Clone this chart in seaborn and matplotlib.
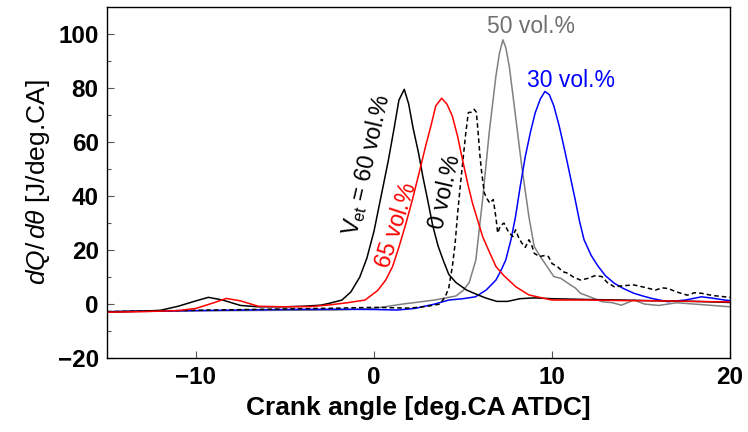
import matplotlib
matplotlib.use("Agg")
import matplotlib.pyplot as plt
import seaborn as sns
import pandas as pd

# Heat release rate curves, dQ/dθ [J/deg.CA] vs crank angle [deg.CA ATDC]
x_60 = [-15, -13, -12, -11, -10, -9.3, -8.5, -7.5, -6.5, -5, -4, -3, -2.5, -1.8, -1.3, -0.8, -0.4, 0.0,
        0.4, 0.8, 1.1, 1.4, 1.7, 1.95, 2.2, 2.5, 2.75, 3.0, 3.3, 3.6, 3.9, 4.2, 4.6, 5.2, 5.8, 6.3, 6.9,
        7.5, 8.2, 9, 10, 12, 14, 16, 18, 20]
y_60 = [-2.9, -2.6, -2.3, -0.8, 1.2, 2.5, 1.5, -0.5, -1.0, -1.0, -0.8, -0.4, 0.3, 1.5, 4.5, 10, 17, 27,
        40, 53, 64, 75.5, 79.5, 74, 65, 56, 47, 39, 29, 21.5, 16, 11, 8, 5.2, 3.5, 2.2, 1.0,
        1.0, 2.0, 2.3, 2.0, 1.7, 1.5, 1.2, 1.0, 0.6]

x_65 = [-15, -13, -12, -11, -10, -9, -8.3, -7.5, -6.5, -5, -3.5, -2.5, -1.5, -0.5, 0.2, 0.66, 1.05, 1.41,
        1.8, 2.16, 2.55, 2.9, 3.2, 3.47, 3.8, 4.1, 4.4, 4.7, 4.97, 5.25, 5.53, 6.1, 6.5, 6.85, 7.3, 7.97,
        8.7, 9.3, 10, 12, 14, 16, 18, 20]
y_65 = [-3.0, -2.8, -2.6, -2.4, -1.6, 0.5, 2.1, 1.2, -0.8, -1.0, -0.9, -0.3, 0.5, 1.5, 5, 8.9, 14, 21.3,
        30, 38.7, 49, 58.5, 66, 73.4, 76.2, 74, 69.6, 62, 53.5, 45, 37.4, 25, 19, 13.9, 10.5, 6.4,
        3.4, 2.5, 1.5, 1.5, 1.3, 1.2, 1.0, 0.8]

x_0 = [-15, -10, -5, -2, 0, 2, 3, 3.7, 4.0, 4.2, 4.4, 4.55, 4.7, 4.85, 5.0, 5.15, 5.3, 5.45, 5.63, 5.75,
       5.85, 5.95, 6.05, 6.2, 6.35, 6.5, 6.7, 6.85, 6.95, 7.1, 7.3, 7.45, 7.6, 7.8, 7.95, 8.1, 8.3, 8.5,
       8.7, 8.85, 9.0, 9.3, 9.6, 9.8, 10.0, 10.3, 10.6, 10.9, 11.2, 11.6, 12.0, 12.4, 12.8, 13.1, 13.5,
       14.0, 14.6, 15.2, 15.8, 16.2, 16.5, 17.0, 17.6, 18.0, 18.4, 19.0, 19.7, 20]
y_0 = [-2.8, -2.3, -1.8, -1.5, -1.2, -1.5, -0.8, 0.0, 2.7, 6, 13.9, 22, 33.7, 44, 53.5, 63, 70.9, 71,
       72.1, 71, 63.4, 55, 48.6, 41.1, 39, 37.4, 38.7, 32, 26.3, 29, 30, 28, 26.3, 25, 27.5, 25, 22.6, 21,
       23.8, 22, 18.8, 17.6, 18, 17.6, 15, 13.9, 12, 11.4, 10, 8.9, 9.5, 10.5, 10.2, 8, 6.4,
       6.8, 7.1, 6.2, 5.2, 6.0, 5.8, 4.5, 3.3, 4.2, 4.0, 3.2, 2.7, 2.5]

x_50 = [-15, -10, -5, -2, 0, 1.6, 3.4, 4.6, 5.0, 5.35, 5.72, 6.1, 6.47, 6.85, 7.05, 7.24, 7.4, 7.6, 7.95,
        8.3, 8.7, 9.0, 9.3, 9.6, 10.1, 10.5, 10.9, 11.3, 11.6, 12.2, 12.8, 13.4, 13.9, 14.6, 15.2, 16,
        17, 18, 19, 20]
y_50 = [-2.8, -2.5, -2.3, -2.2, -1.6, 0.0, 1.5, 3.0, 5.0, 8.0, 16.3, 38.7, 63.4, 84.5, 93, 97.8, 95, 88,
        69.6, 51, 32.4, 21.3, 18, 15.1, 10.2, 9.5, 7.7, 6.0, 4.0, 2.5, 0.9, 0.5, -0.4, 1.5, 0.0, -0.5,
        0.5, 0.0, -0.5, -1.0]

x_30 = [-15, -10, -5, -2, 0, 1.3, 2.3, 3.4, 4.2, 5.0, 5.7, 6.3, 6.85, 7.1, 7.4, 7.7, 7.95, 8.2, 8.5, 8.8,
        9.06, 9.35, 9.6, 9.85, 10.1, 10.4, 10.7, 11.0, 11.3, 11.55, 11.8, 12.2, 12.6, 13.0, 13.5, 14.0,
        14.6, 15.1, 15.6, 16.5, 17.5, 18.4, 19.0, 19.7, 20]
y_30 = [-2.8, -2.4, -2.0, -1.9, -2.0, -2.2, -1.6, 0.0, 1.5, 2.0, 2.7, 5.2, 8.9, 12, 16.3, 24, 32.4, 43,
        54.7, 64, 70.9, 76, 78.7, 77.5, 73.4, 66, 57.3, 48, 38.7, 30.5, 23.8, 18, 13.9, 10.5, 7.7, 5.8,
        4.0, 3.0, 2.1, 0.9, 1.5, 2.7, 2.2, 1.5, 1.3]

x_ticks = [-10, 0, 10, 20]
y_ticks = [-20, 0, 20, 40, 60, 80, 100]

sns.set_theme(style="ticks")
plt.rcParams["font.family"] = ["Liberation Sans", "DejaVu Sans"]
plt.rcParams["mathtext.fontset"] = "custom"
plt.rcParams["mathtext.rm"] = "Liberation Sans"
plt.rcParams["mathtext.it"] = "Liberation Sans:italic"
plt.rcParams["text.color"] = "black"
plt.rcParams["axes.labelcolor"] = "black"
plt.rcParams["xtick.labelcolor"] = "black"
plt.rcParams["ytick.labelcolor"] = "black"

fig = plt.figure(figsize=(7.48, 4.32), dpi=100)
ax = fig.add_axes([0.143, 0.171, 0.833, 0.813])

series = [
    (x_50, y_50, "#808080", "-"),
    (x_30, y_30, "#0000ff", "-"),
    (x_0, y_0, "black", (0, (3, 2))),
    (x_60, y_60, "black", "-"),
    (x_65, y_65, "#ff0000", "-"),
]
for xs, ys, col, ls in series:
    df = pd.DataFrame({"ca": xs, "hrr": ys})
    sns.lineplot(data=df, x="ca", y="hrr", ax=ax, color=col, linestyle=ls,
                 linewidth=1.1, sort=False, estimator=None)

ax.set_xlim(-15, 20)
ax.set_ylim(-20, 110)
ax.set_xticks(x_ticks)
ax.set_yticks(y_ticks)
ax.set_yticks([-10, 10, 30, 50, 70, 90], minor=True)
ax.tick_params(axis="both", which="major", direction="in", length=5, width=0.8,
               labelsize=17.5, pad=6, color="#555555")
ax.tick_params(axis="y", which="minor", direction="in", length=3, width=0.8, color="#555555")
for lab in ax.get_xticklabels() + ax.get_yticklabels():
    lab.set_fontweight("bold")
for sp in ax.spines.values():
    sp.set_visible(True)
    sp.set_linewidth(1.0)
    sp.set_color("black")

ax.set_xlabel("Crank angle [deg.CA ATDC]", fontsize=19, fontweight="bold", labelpad=5)
ax.set_ylabel(r"$dQ/\,d\theta$ [J/deg.CA]", fontsize=19, labelpad=4)

ax.text(8.84, 102.6, "50 vol.%", color="#707070", fontsize=16.5, ha="center", va="center")
ax.text(11.07, 82.6, "30 vol.%", color="#0000ff", fontsize=16.5, ha="center", va="center")
ax.text(-0.39, 51.7, r"$\mathrm{V_{et}}$ = 60 vol.%", color="black", fontsize=16.5,
        rotation=77, ha="center", va="center", rotation_mode="anchor")
ax.text(1.24, 29.4, "65 vol.%", color="#ff0000", fontsize=16.5,
        rotation=72, ha="center", va="center", rotation_mode="anchor")
ax.text(4.0, 41.6, "0 vol.%", color="black", fontsize=16.5,
        rotation=77, ha="center", va="center", rotation_mode="anchor")

fig.savefig("out.png", dpi=100)
